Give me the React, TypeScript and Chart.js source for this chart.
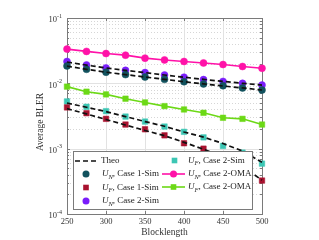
import React, { useEffect, useRef } from 'react';
import { Chart, registerables } from 'chart.js';

Chart.register(...registerables);

// ---- data ----
const blocklength = [250, 275, 300, 325, 350, 375, 400, 425, 450, 475, 500];
const xTicks = [250, 300, 350, 400, 450, 500];
const yDecades = [-4, -3, -2, -1];

const theoUN1 = [0.0183, 0.0164, 0.0148, 0.0136, 0.0125, 0.0115, 0.0106, 0.0098, 0.0091, 0.0085, 0.0079];
const theoUN2 = [0.0212, 0.0190, 0.0172, 0.0158, 0.0146, 0.0134, 0.0124, 0.0115, 0.0107, 0.0100, 0.0094];
const theoUF1 = [0.0041, 0.0034, 0.0028, 0.0023, 0.0019, 0.00158, 0.00125, 0.00098, 0.00075, 0.00053, 0.00033];
const theoUF2 = [0.0050, 0.0043, 0.0037, 0.0031, 0.0026, 0.0022, 0.0018, 0.0015, 0.0012, 0.00092, 0.00062];

const unCase1Sim = [0.0185, 0.0164, 0.0148, 0.0136, 0.0125, 0.0115, 0.0106, 0.0098, 0.0092, 0.0085, 0.0079];
const ufCase1Sim = [0.00428, 0.00349, 0.00286, 0.00234, 0.00198, 0.0016, 0.00121, 0.0010, 0.00078, 0.00057, 0.000325];
const unCase2Sim = [0.0216, 0.0191, 0.0172, 0.0158, 0.0146, 0.0134, 0.0124, 0.0114, 0.0107, 0.0100, 0.0094];
const ufCase2Sim = [0.00528, 0.00438, 0.00375, 0.0031, 0.0026, 0.00218, 0.00181, 0.00149, 0.0011, 0.00087, 0.00059];
const unCase2OMA = [0.0334, 0.0308, 0.0286, 0.0270, 0.0243, 0.0228, 0.0216, 0.0205, 0.0194, 0.0181, 0.0170];
const ufCase2OMA = [0.0089, 0.00745, 0.00677, 0.00582, 0.0051, 0.00448, 0.00398, 0.00354, 0.00297, 0.00286, 0.00234];

const SERIF = '"Liberation Serif", "Times New Roman", serif';
const C_TEAL = '#12525e';
const C_RED = '#a8122f';
const C_PURPLE = '#7a1dfb';
const C_CYAN = '#3cc6b4';
const C_PINK = '#ff12a8';
const C_GREEN = '#6cd916';

const pts = (arr: number[]) => blocklength.map((b, i) => ({ x: b, y: arr[i] }));

const theoDs = (arr: number[]) => ({
  data: pts(arr),
  borderColor: '#111',
  borderWidth: 1.7,
  borderDash: [5, 3],
  pointRadius: 0,
  showLine: true,
  fill: false,
  clip: false as any,
});

const simDs = (arr: number[], color: string, style: string, r: number) => ({
  data: pts(arr),
  showLine: false,
  pointStyle: style,
  pointRadius: r,
  pointBackgroundColor: color,
  pointBorderColor: color,
  pointBorderWidth: 0.5,
  clip: false as any,
});

const omaDs = (arr: number[], color: string, style: string, r: number) => ({
  data: pts(arr),
  showLine: true,
  borderColor: color,
  borderWidth: 1.6,
  pointStyle: style,
  pointRadius: r,
  pointBackgroundColor: color,
  pointBorderColor: color,
  pointBorderWidth: 0.5,
  fill: false,
  clip: false as any,
});

function drawUText(ctx: CanvasRenderingContext2D, x: number, y: number, sub: string, rest: string) {
  ctx.textAlign = 'left';
  ctx.textBaseline = 'middle';
  ctx.fillStyle = '#222';
  ctx.font = `italic 9px ${SERIF}`;
  ctx.fillText('U', x, y);
  let cx = x + ctx.measureText('U').width;
  ctx.font = `italic 6.5px ${SERIF}`;
  ctx.fillText(sub, cx, y + 3);
  cx += ctx.measureText(sub).width;
  ctx.font = `9px ${SERIF}`;
  ctx.fillText(rest, cx, y);
}

const decorPlugin = {
  id: 'decor',
  beforeDatasetsDraw(chart: any) {
    const { ctx, chartArea, scales } = chart;
    const { left, right, top, bottom } = chartArea;
    const x = scales.x;
    const y = scales.y;
    ctx.save();
    // minor dotted horizontal grid
    ctx.strokeStyle = '#d6d6d6';
    ctx.lineWidth = 1;
    ctx.setLineDash([1, 2]);
    for (let d = -4; d < -1 + 1; d++) {
      if (d >= -1) break;
      for (let m = 2; m <= 9; m++) {
        const py = Math.round(y.getPixelForValue(m * Math.pow(10, d))) + 0.5;
        ctx.beginPath();
        ctx.moveTo(left, py);
        ctx.lineTo(right, py);
        ctx.stroke();
      }
    }
    // major grid
    ctx.setLineDash([]);
    ctx.strokeStyle = '#e2e2e2';
    xTicks.forEach((t) => {
      const px = Math.round(x.getPixelForValue(t)) + 0.5;
      ctx.beginPath();
      ctx.moveTo(px, top);
      ctx.lineTo(px, bottom);
      ctx.stroke();
    });
    yDecades.forEach((d) => {
      const py = Math.round(y.getPixelForValue(Math.pow(10, d))) + 0.5;
      ctx.beginPath();
      ctx.moveTo(left, py);
      ctx.lineTo(right, py);
      ctx.stroke();
    });
    // axes box
    ctx.strokeStyle = '#7a7a7a';
    ctx.lineWidth = 1;
    ctx.strokeRect(Math.round(left) + 0.5, Math.round(top) + 0.5, Math.round(right - left), Math.round(bottom - top));
    // ticks
    ctx.strokeStyle = '#7a7a7a';
    xTicks.forEach((t) => {
      const px = Math.round(x.getPixelForValue(t)) + 0.5;
      ctx.beginPath();
      ctx.moveTo(px, bottom);
      ctx.lineTo(px, bottom - 3);
      ctx.moveTo(px, top);
      ctx.lineTo(px, top + 3);
      ctx.stroke();
    });
    for (let d = -4; d <= -2; d++) {
      for (let m = 1; m <= 9; m++) {
        const py = Math.round(y.getPixelForValue(m * Math.pow(10, d))) + 0.5;
        const len = m === 1 ? 3 : 2;
        ctx.beginPath();
        ctx.moveTo(left, py);
        ctx.lineTo(left + len, py);
        ctx.moveTo(right, py);
        ctx.lineTo(right - len, py);
        ctx.stroke();
      }
    }
    // x tick labels
    ctx.fillStyle = '#333';
    ctx.font = `8.5px ${SERIF}`;
    ctx.textAlign = 'center';
    ctx.textBaseline = 'middle';
    xTicks.forEach((t) => {
      ctx.fillText(String(t), x.getPixelForValue(t), 222);
    });
    // y tick labels with superscripts
    yDecades.forEach((d) => {
      const py = y.getPixelForValue(Math.pow(10, d));
      ctx.font = `8.5px ${SERIF}`;
      ctx.textAlign = 'right';
      ctx.fillText('10', 57, py + 2);
      ctx.font = `6px ${SERIF}`;
      ctx.textAlign = 'left';
      ctx.fillText(String(d), 57, py - 2);
    });
    // axis titles
    ctx.font = `9.5px ${SERIF}`;
    ctx.textAlign = 'center';
    ctx.fillStyle = '#333';
    ctx.fillText('Blocklength', (left + right) / 2, 232);
    ctx.save();
    ctx.translate(40, 122);
    ctx.rotate(-Math.PI / 2);
    ctx.fillText('Average BLER', 0, 0);
    ctx.restore();
    ctx.restore();
  },
  afterDraw(chart: any) {
    const ctx: CanvasRenderingContext2D = chart.ctx;
    ctx.save();
    // legend box
    ctx.fillStyle = '#ffffff';
    ctx.fillRect(73.5, 151.5, 179, 58);
    ctx.strokeStyle = '#7a7a7a';
    ctx.lineWidth = 1;
    ctx.strokeRect(73.5, 151.5, 179, 58);

    // left column
    // Theo
    ctx.strokeStyle = '#111';
    ctx.lineWidth = 1.7;
    ctx.setLineDash([5, 3]);
    ctx.beginPath();
    ctx.moveTo(75, 161);
    ctx.lineTo(98, 161);
    ctx.stroke();
    ctx.setLineDash([]);
    ctx.fillStyle = '#222';
    ctx.font = `9px ${SERIF}`;
    ctx.textAlign = 'left';
    ctx.textBaseline = 'middle';
    ctx.fillText('Theo', 101, 161);

    const circle = (cx: number, cy: number, color: string) => {
      ctx.fillStyle = color;
      ctx.beginPath();
      ctx.arc(cx, cy, 3.5, 0, Math.PI * 2);
      ctx.fill();
    };
    const square = (cx: number, cy: number, color: string) => {
      ctx.fillStyle = color;
      ctx.fillRect(cx - 2.8, cy - 2.8, 5.6, 5.6);
    };
    const line = (x0: number, x1: number, yy: number, color: string) => {
      ctx.strokeStyle = color;
      ctx.lineWidth = 1.6;
      ctx.beginPath();
      ctx.moveTo(x0, yy);
      ctx.lineTo(x1, yy);
      ctx.stroke();
    };

    circle(86, 174, C_TEAL);
    drawUText(ctx, 102, 174, 'N', ', Case 1-Sim');
    square(86, 187.5, C_RED);
    drawUText(ctx, 102, 187.5, 'F', ', Case 1-Sim');
    circle(86, 201, C_PURPLE);
    drawUText(ctx, 102, 201, 'N', ', Case 2-Sim');

    // right column
    square(174.5, 160.5, C_CYAN);
    drawUText(ctx, 188, 160.5, 'F', ', Case 2-Sim');
    line(162, 185, 174, C_PINK);
    circle(173.5, 174, C_PINK);
    drawUText(ctx, 188, 174, 'N', ', Case 2-OMA');
    line(162, 185, 187, C_GREEN);
    square(173.5, 187, C_GREEN);
    drawUText(ctx, 188, 187, 'F', ', Case 2-OMA');
    ctx.restore();
  },
};

export default function App() {
  const ref = useRef<HTMLCanvasElement | null>(null);
  useEffect(() => {
    document.body.style.margin = '0';
    const canvas = ref.current;
    if (!canvas) return;
    const chart = new Chart(canvas, {
      type: 'line',
      data: {
        datasets: [
          theoDs(theoUN1),
          theoDs(theoUN2),
          theoDs(theoUF1),
          theoDs(theoUF2),
          simDs(unCase1Sim, C_TEAL, 'circle', 3.5),
          simDs(ufCase1Sim, C_RED, 'rect', 3.9),
          simDs(unCase2Sim, C_PURPLE, 'circle', 3.5),
          simDs(ufCase2Sim, C_CYAN, 'rect', 3.9),
          omaDs(unCase2OMA, C_PINK, 'circle', 3.5),
          omaDs(ufCase2OMA, C_GREEN, 'rect', 3.9),
        ] as any,
      },
      options: {
        animation: false,
        responsive: false,
        devicePixelRatio: 1,
        layout: { padding: { left: 67, right: 57, top: 18, bottom: 26 } },
        plugins: { legend: { display: false }, tooltip: { enabled: false } },
        scales: {
          x: { type: 'linear', min: 250, max: 500, display: false },
          y: { type: 'logarithmic', min: 1e-4, max: 1e-1, display: false },
        },
      },
      plugins: [decorPlugin],
    });
    return () => chart.destroy();
  }, []);
  return (
    <div style={{ width: 319, height: 240, background: '#fff' }}>
      <canvas ref={ref} width={319} height={240} style={{ display: 'block', width: 319, height: 240 }} />
    </div>
  );
}
